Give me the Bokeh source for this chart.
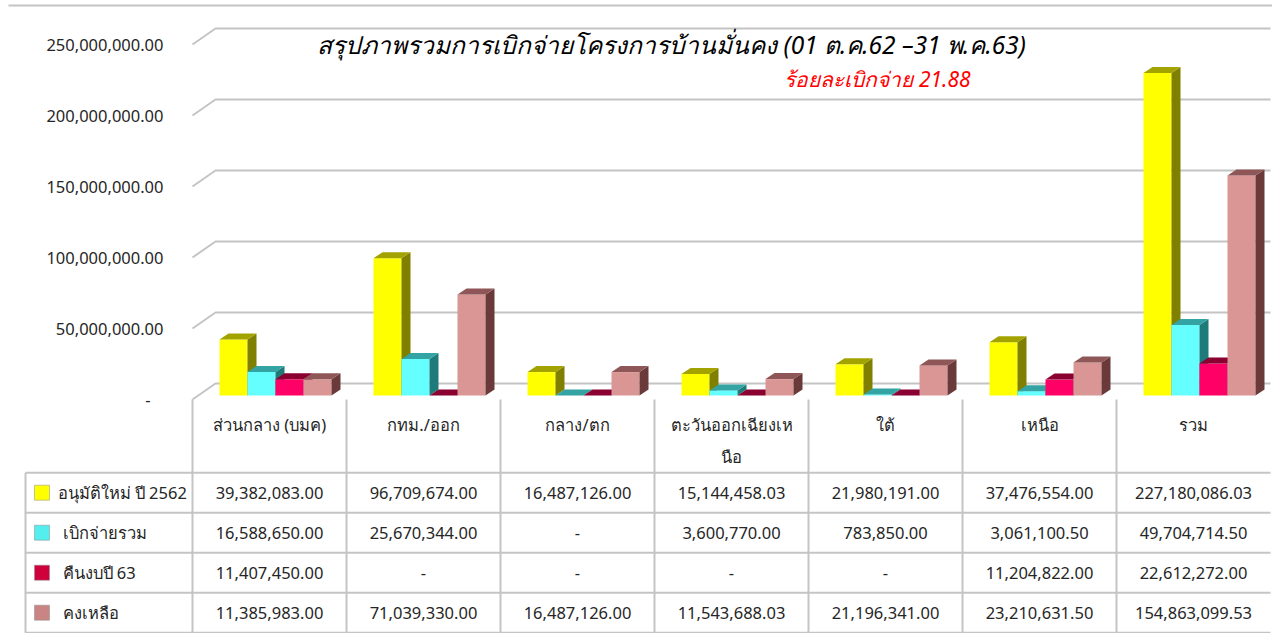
from bokeh.plotting import figure
from bokeh.models import Range1d, Label
from bokeh.core.properties import value
from bokeh.embed import file_html
from bokeh.resources import INLINE

# ---------------- data ----------------
categories = ["ส่วนกลาง (บมค)", "กทม./ออก", "กลาง/ตก", "ตะวันออกเฉียงเห\nนือ", "ใต้", "เหนือ", "รวม"]
series_names = ["อนุมัติใหม่ ปี 2562", "เบิกจ่ายรวม", "คืนงบปี 63", "คงเหลือ"]
approved = [39382083.00, 96709674.00, 16487126.00, 15144458.03, 21980191.00, 37476554.00, 227180086.03]
disbursed = [16588650.00, 25670344.00, 0.0, 3600770.00, 783850.00, 3061100.50, 49704714.50]
returned = [11407450.00, 0.0, 0.0, 0.0, 0.0, 11204822.00, 22612272.00]
remaining = [11385983.00, 71039330.00, 16487126.00, 11543688.03, 21196341.00, 23210631.50, 154863099.53]
y_ticks = [0, 50000000, 100000000, 150000000, 200000000, 250000000]
title_text = "สรุปภาพรวมการเบิกจ่ายโครงการบ้านมั่นคง (01 ต.ค.62 –31 พ.ค.63)"
subtitle_text = "ร้อยละเบิกจ่าย 21.88"

series = [approved, disbursed, returned, remaining]
front_colors = ["#FFFF00", "#66FFFF", "#FF0066", "#D99694"]
side_colors = ["#7F7F00", "#1F7A7A", "#7A0030", "#6A3A3A"]
top_colors = ["#A3A300", "#33A3A3", "#8A0030", "#8E5656"]
key_colors = ["#FFFF00", "#55EEEE", "#D0003C", "#C98584"]

FONT_STR = "Tahoma, 'Noto Sans', 'DejaVu Sans', sans-serif"
FONT = value(FONT_STR)
TXT = "#262626"
GRID = "#C4C4C4"
FS = "16.5px"

# ---------------- geometry ----------------
W, H = 1272, 633
PXU = 154.0                      # pixels per category column
x_start = -192 / PXU
x_end = x_start + W / PXU
VPX = 50e6 / 71                  # value per pixel
BASE_PX = 399                    # front floor from top of figure
y_end = BASE_PX * VPX
y_start = -(H - BASE_PX) * VPX
ROW = 40.0
HDR = 1.83
tbl_start = -(H - BASE_PX) / ROW
tbl_end = BASE_PX / ROW

n = len(categories)
bw = 28 / PXU
dx1, dy1 = 6 / PXU, 4 * VPX      # offset of bars into floor depth
dx2, dy2 = 9 / PXU, 6 * VPX      # bar depth
gx, gy = 23 / PXU, 16 * VPX      # wall depth

p = figure(width=W, height=H, x_range=Range1d(x_start, x_end), y_range=Range1d(y_start, y_end),
           output_backend="svg", toolbar_location=None, min_border=0)
p.extra_y_ranges = {"tbl": Range1d(tbl_start, tbl_end)}
p.axis.visible = False
p.grid.visible = False
p.outline_line_color = None
p.background_fill_color = "white"
p.border_fill_color = "white"

# top border line
top_y = (BASE_PX - 5) * VPX
p.line(x=[(8 - 192) / PXU, (1272 - 192) / PXU], y=[top_y, top_y], line_color=GRID, line_width=2)

# ---------------- back wall gridlines ----------------
gxs, gys = [], []
for t in y_ticks:
    gxs.append([0, gx, n])
    gys.append([t, t + gy, t + gy])
p.multi_line(gxs, gys, line_color=GRID, line_width=2)

# y tick labels (front plane)
tick_labels = ["-" if t == 0 else f"{t:,.2f}" for t in y_ticks]
tick_off = [-13 if t == 0 else 0 for t in y_ticks]
p.text(x=[(163 - 192) / PXU] * len(y_ticks), y=y_ticks, text=tick_labels, x_offset=tick_off,
       text_align="right", text_baseline="middle", text_font=FONT, text_font_size=FS, text_color=TXT)

# ---------------- 3D bars ----------------
for k, vals in enumerate(series):
    left = [i + 0.5 - 2 * bw + k * bw + dx1 for i in range(n)]
    right = [l + bw for l in left]
    bottom = [dy1] * n
    top = [dy1 + v for v in vals]
    p.quad(left=left, right=right, bottom=bottom, top=top, fill_color=front_colors[k], line_color=None)
    sx = [[r, r + dx2, r + dx2, r] for r in right]
    sy = [[b, b + dy2, t + dy2, t] for b, t in zip(bottom, top)]
    p.patches(sx, sy, fill_color=side_colors[k], line_color=None)
    tx = [[l, l + dx2, r + dx2, r] for l, r in zip(left, right)]
    ty = [[t, t + dy2, t + dy2, t] for t in top]
    p.patches(tx, ty, fill_color=top_colors[k], line_color=None)

# ---------------- data table ----------------
LEFT = (25 - 192) / PXU
bottom_tbl = -HDR - len(series)
hx, hy = [], []
for r in range(len(series) + 1):
    yy = -HDR - r
    hx.append([LEFT, n])
    hy.append([yy, yy])
for i in range(n):
    hx.append([i, i])
    hy.append([0, bottom_tbl])
hx.append([LEFT, LEFT])
hy.append([-HDR, bottom_tbl])
p.multi_line(hx, hy, line_color=GRID, line_width=2, y_range_name="tbl")

p.text(x=[i + 0.5 for i in range(n)], y=[-13 / ROW] * n, text=categories,
       text_align="center", text_baseline="top", text_line_height=1.4,
       text_font=FONT, text_font_size=FS, text_color=TXT, y_range_name="tbl")

row_y = [-HDR - r - 0.5 for r in range(len(series))]
p.scatter(x=[(41.5 - 192) / PXU] * len(series), y=row_y, marker="square", size=15,
          fill_color=key_colors, line_color="#8A8A8A", line_width=0.5, y_range_name="tbl")
name_x = [(57 - 192) / PXU] + [(62 - 192) / PXU] * (len(series) - 1)
p.text(x=name_x, y=row_y, text=series_names, text_align="left", text_baseline="middle",
       text_font=FONT, text_font_size=FS, text_color=TXT, y_range_name="tbl")

cx, cy, ct = [], [], []
for r, vals in enumerate(series):
    for i, v in enumerate(vals):
        cx.append(i + 0.5)
        cy.append(row_y[r])
        ct.append("-" if v == 0 else f"{v:,.2f}")
p.text(x=cx, y=cy, text=ct, text_align="center", text_baseline="middle",
       text_font=FONT, text_font_size=FS, text_color=TXT, y_range_name="tbl")

# ---------------- titles ----------------
p.add_layout(Label(x=671, y=H - 44, x_units="screen", y_units="screen", text=title_text,
                   text_align="center", text_baseline="middle", text_font=FONT_STR,
                   text_font_size="24.5px", text_font_style="italic", text_color="#000000"))
p.add_layout(Label(x=877, y=H - 78, x_units="screen", y_units="screen", text=subtitle_text,
                   text_align="center", text_baseline="middle", text_font=FONT_STR,
                   text_font_size="21px", text_font_style="italic", text_color="#FF0000"))

open("out.html", "w").write(file_html(p, INLINE))
